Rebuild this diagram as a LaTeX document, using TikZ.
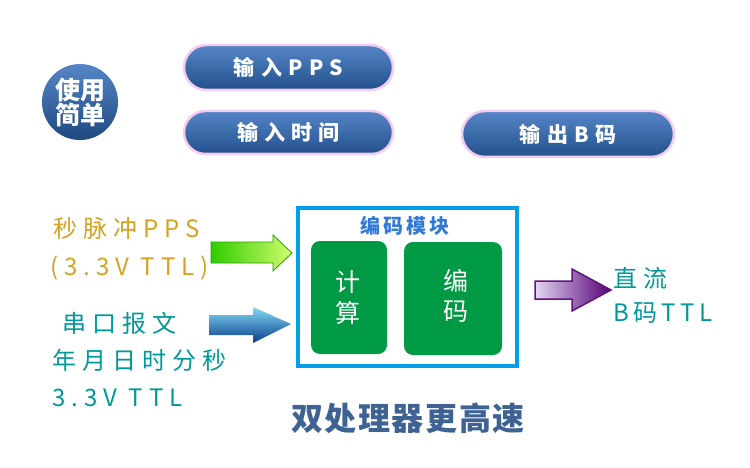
\documentclass[tikz,border=0pt]{standalone}
\usepackage{fontspec}
\setmainfont{Noto Sans CJK SC}
\newfontfamily\lsf[LetterSpace=25]{Noto Sans CJK SC}
\newfontfamily\lsg[LetterSpace=18]{Noto Sans CJK SC}
\newfontfamily\lsb[LetterSpace=30]{Noto Sans CJK SC}
\newfontfamily\lsc[LetterSpace=15]{Noto Sans CJK SC}
\newfontfamily\lsd[LetterSpace=5]{Noto Sans CJK SC}
\definecolor{btnTop}{RGB}{86,134,200}
\definecolor{btnBot}{RGB}{34,80,140}
\definecolor{btnEdge}{RGB}{244,204,240}
\definecolor{gold}{RGB}{214,160,32}
\definecolor{teal}{RGB}{0,152,152}
\definecolor{frameBlue}{RGB}{0,160,233}
\definecolor{titleBlue}{RGB}{50,120,214}
\definecolor{boxGreen}{RGB}{0,153,68}
\definecolor{bigBlue}{RGB}{62,98,146}
\definecolor{gA}{RGB}{48,204,0}
\definecolor{gB}{RGB}{210,252,110}
\definecolor{gD}{RGB}{40,160,0}
\definecolor{bA}{RGB}{130,220,245}
\definecolor{bM}{RGB}{30,150,215}
\definecolor{bB}{RGB}{10,60,140}
\definecolor{pA}{RGB}{228,214,242}
\definecolor{pB}{RGB}{84,0,116}
\definecolor{pD}{RGB}{96,20,128}
\tikzset{
  btn/.style={draw=btnEdge, line width=2.5pt, top color=btnTop, bottom color=btnBot,
    text=white, font=\lsb\bfseries\fontsize{21}{24}\selectfont, inner sep=0pt},
  lbl/.style={anchor=west, inner sep=0pt, font=\lsf\fontsize{24}{28}\selectfont},
  gbox/.style={fill=boxGreen, rounded corners=9pt, inner sep=0pt},
  gtxt/.style={text=white, inner sep=0pt, font=\fontsize{25}{28}\selectfont},
}
\begin{document}
\begin{tikzpicture}[x=1pt,y=-1pt]
\useasboundingbox (0,0) rectangle (750,468);
% round badge
\node[circle, minimum size=76pt, inner sep=0pt, top color=btnTop, bottom color=btnBot!90!black,
      text=white, font=\bfseries\fontsize{25}{25}\selectfont, align=center]
  (badge) at (80,102) {使用\\[0pt]简单};
% buttons
\node[btn, minimum width=209pt, minimum height=45pt, rounded corners=22.5pt] (b1) at (288.5,67.5) {输入PPS};
\node[btn, minimum width=209pt, minimum height=43pt, rounded corners=21.5pt] (b2) at (288.5,132.5) {输入时间};
\node[btn, minimum width=212pt, minimum height=46pt, rounded corners=23pt] (b3) at (568,134) {输出B码};
% encoder frame
\draw[frameBlue, line width=4pt] (298,208) rectangle (517,366);
\node[text=titleBlue, inner sep=0pt, font=\lsc\bfseries\fontsize{20}{22}\selectfont] (ttl) at (405,226) {编码模块};
\node[gbox, minimum width=76pt, minimum height=113pt] (calc) at (349,297.5) {};
\node[gbox, minimum width=98pt, minimum height=113pt] (enc) at (453,298.5) {};
\node[gtxt] (c1) at (348,282) {计};
\node[gtxt] (c2) at (348,313) {算};
\node[gtxt] (e1) at (456,281) {编};
\node[gtxt] (e2) at (456,312) {码};
% left labels
\node[lbl, text=gold] (l1) at (53,228) {秒脉冲PPS};
\node[lbl, text=gold] (l2) at (50,268) {(3.3V TTL)};
\node[lbl, text=teal] (l3) at (62,323) {串口报文};
\node[lbl, text=teal] (l4) at (52,360) {年月日时分秒};
\node[lbl, text=teal] (l5) at (52,398) {3.3V TTL};
% right labels
\node[lbl, text=teal] (r1) at (613,278) {直流};
\node[lbl, text=teal, font=\lsg\fontsize{24}{28}\selectfont] (r2) at (613,313) {B码TTL};
% bottom title
\node[text=bigBlue, inner sep=0pt, font=\lsd\bfseries\fontsize{32}{34}\selectfont] (big) at (408,418) {双处理器更高速};
% arrows
\shade[left color=gA, middle color=gA, right color=gB, draw=gD, line width=0.8pt]
  (211,242) -- (273,242) -- (273,235) -- (292,253) -- (273,271) -- (273,263) -- (211,263) -- cycle;
\shade[top color=bA, middle color=bM, bottom color=bB]
  (209,315) -- (253,315) -- (253,307) -- (291,324) -- (253,343) -- (253,335) -- (209,335) -- cycle;
\shade[left color=pA, right color=pB, draw=pD, line width=1.5pt]
  (535,281) -- (572,281) -- (572,269) -- (611,290) -- (572,311) -- (572,299) -- (535,299) -- cycle;
\end{tikzpicture}
\end{document}
